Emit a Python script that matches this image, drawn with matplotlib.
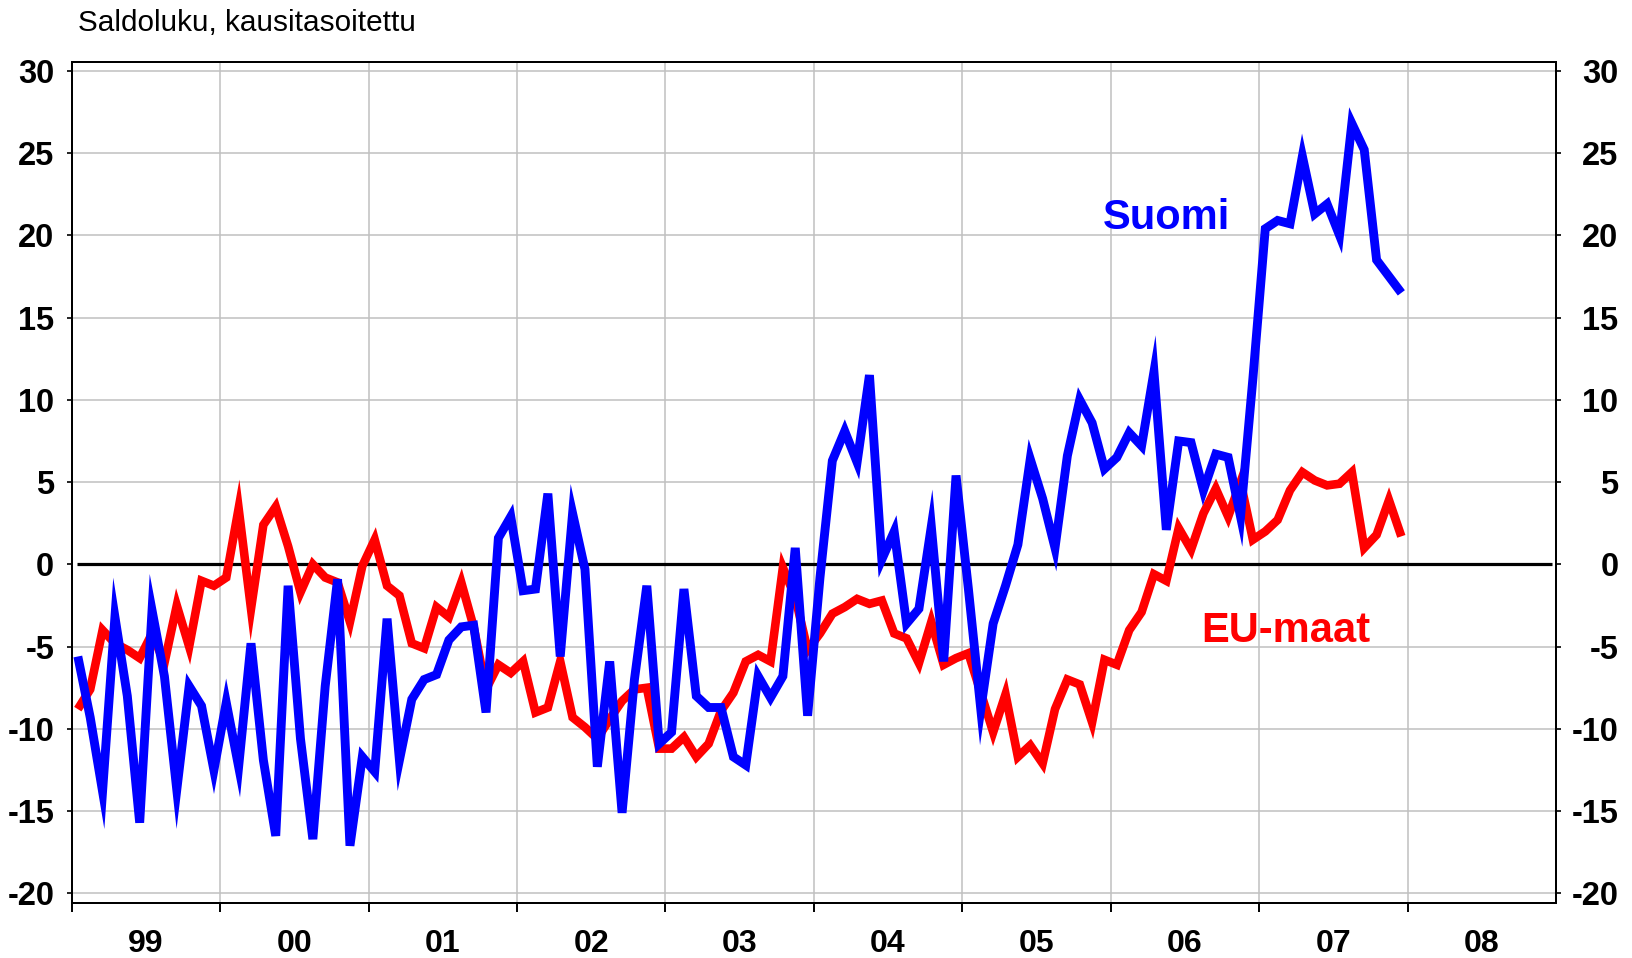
import numpy as np
import pandas as pd
import matplotlib
matplotlib.use("Agg")
import matplotlib.pyplot as plt
from matplotlib.ticker import FixedLocator, NullFormatter, FixedFormatter

plt.rcParams["font.family"] = ["Liberation Sans", "DejaVu Sans"]
plt.rcParams["axes.unicode_minus"] = False

# ----- data: monthly balance figures, Jan 1999 - Dec 2007 -----
months = pd.date_range("1999-01-01", "2007-12-01", freq="MS")

suomi = [
    -5.6, -9.3, -13.8, -3.2, -8.0, -15.7, -2.8, -6.8, -13.7, -7.4, -8.6, -12.5,   # 1999
    -8.4, -12.3, -4.8, -11.9, -16.5, -1.3, -10.6, -16.7, -7.4, -0.9, -17.1, -11.7,  # 2000
    -12.6, -3.3, -11.9, -8.2, -7.0, -6.7, -4.6, -3.8, -3.7, -9.0, 1.6, 2.9,        # 2001
    -1.6, -1.5, 4.3, -5.6, 3.1, -0.3, -12.3, -5.9, -15.1, -7.0, -1.3, -10.9,       # 2002
    -10.2, -1.5, -8.0, -8.7, -8.7, -11.7, -12.2, -6.8, -8.1, -6.8, 1.0, -9.2,      # 2003
    -0.8, 6.3, 8.1, 6.2, 11.5, 0.3, 2.0, -3.6, -2.7, 2.3, -5.9, 5.4,               # 2004
    -1.5, -8.8, -3.6, -1.3, 1.2, 6.4, 4.0, 1.0, 6.6, 10.0, 8.6, 5.8,               # 2005
    6.5, 8.0, 7.2, 11.7, 2.1, 7.5, 7.4, 4.5, 6.7, 6.5, 2.9, 11.3,                  # 2006
    20.4, 20.9, 20.7, 24.8, 21.3, 21.9, 20.0, 26.8, 25.2, 18.5, 17.5, 16.5,        # 2007
]
eu_maat = [
    -8.8, -7.6, -4.0, -4.8, -5.2, -5.7, -4.2, -6.0, -2.5, -5.0, -1.0, -1.3,        # 1999
    -0.8, 3.4, -2.7, 2.4, 3.5, 1.1, -1.7, 0.0, -0.8, -1.1, -3.5, -0.1,             # 2000
    1.5, -1.3, -1.9, -4.8, -5.1, -2.6, -3.2, -1.1, -3.8, -7.6, -6.1, -6.6,         # 2001
    -5.9, -9.0, -8.7, -5.9, -9.3, -9.9, -10.6, -9.4, -8.3, -7.6, -7.5, -11.2,      # 2002
    -11.2, -10.5, -11.7, -10.9, -8.9, -7.8, -5.9, -5.5, -5.9, -0.2, -2.0, -5.2,    # 2003
    -4.2, -3.0, -2.6, -2.1, -2.4, -2.2, -4.2, -4.5, -6.0, -3.5, -6.1, -5.7,        # 2004
    -5.4, -7.8, -10.2, -7.9, -11.7, -11.0, -12.1, -8.8, -7.0, -7.3, -9.6, -5.8,    # 2005
    -6.1, -4.0, -2.9, -0.6, -1.0, 2.2, 0.9, 3.1, 4.6, 2.9, 5.0, 1.5,               # 2006
    2.0, 2.7, 4.5, 5.6, 5.1, 4.8, 4.9, 5.6, 1.0, 1.8, 3.9, 1.7,                    # 2007
]

years = list(range(1999, 2009))
year_labels = ["99", "00", "01", "02", "03", "04", "05", "06", "07", "08"]
y_ticks = list(range(-20, 31, 5))

# month centres as decimal years
x = months.year + (months.month - 0.5) / 12.0

TICK_FS = 23.5
YLIM = (-20.6, 30.55)

fig = plt.figure(figsize=(16.32, 9.58), dpi=100)
ax = fig.add_axes([0.0439, 0.0571, 0.9095, 0.8785])

grid_c = "#c0c0c0"
for yv in y_ticks:
    if yv != 0:
        ax.axhline(yv, color=grid_c, lw=1.1, zorder=1)
for yr in years[1:]:
    ax.axvline(yr, color=grid_c, lw=1.1, zorder=1)
ax.hlines(0, 1999 + 5 / 148.3, 2009 - 4 / 148.3, color="black", lw=2.3, zorder=2)

ax.plot(x, eu_maat, color="#ff0000", lw=6.2, solid_joinstyle="miter",
        solid_capstyle="butt", zorder=3)
ax.plot(x, suomi, color="#0000ff", lw=6.4, solid_joinstyle="miter",
        solid_capstyle="butt", zorder=4)

ax.set_xlim(1999, 2009)
ax.set_ylim(*YLIM)

for s in ax.spines.values():
    s.set_linewidth(1.4)
    s.set_color("black")

# x axis: year ticks at boundaries, labels centred in each year
ax.xaxis.set_major_locator(FixedLocator(years))
ax.xaxis.set_major_formatter(NullFormatter())
ax.xaxis.set_minor_locator(FixedLocator([y + 0.5 for y in years]))
ax.xaxis.set_minor_formatter(FixedFormatter(year_labels))
ax.tick_params(axis="x", which="major", direction="out", length=6.5, width=1.4)
ax.tick_params(axis="x", which="minor", length=0, pad=18.8, labelsize=23)

# left y axis
ax.set_yticks(y_ticks)
ax.set_yticklabels([str(v) for v in y_ticks])
ax.tick_params(axis="y", direction="out", length=3.5, width=1.2,
               labelsize=TICK_FS, pad=9.0)

# right y axis, labels right-aligned like the original
ax2 = ax.twinx()
ax2.set_ylim(*YLIM)
ax2.set_yticks(y_ticks)
ax2.set_yticklabels([str(v) for v in y_ticks], ha="right")
ax2.tick_params(axis="y", direction="out", length=3.5, width=1.2,
                labelsize=TICK_FS, pad=41.5)
for s in ax2.spines.values():
    s.set_linewidth(1.4)

for lab in ax.get_xticklabels(minor=True) + ax.get_yticklabels() + ax2.get_yticklabels():
    lab.set_fontweight("bold")

fig.text(77.7 / 1632, 1 - 31 / 958, "Saldoluku, kausitasoitettu", fontsize=21.4,
         ha="left", va="baseline")

ax.text(2005.945, 20.38, "Suomi", color="#0000ff", fontsize=30, fontweight="bold",
        ha="left", va="baseline", zorder=5)
ax.text(2006.613, -4.73, "EU-maat", color="#ff0000", fontsize=30, fontweight="bold",
        ha="left", va="baseline", zorder=5)

fig.savefig("out.png", dpi=100)
